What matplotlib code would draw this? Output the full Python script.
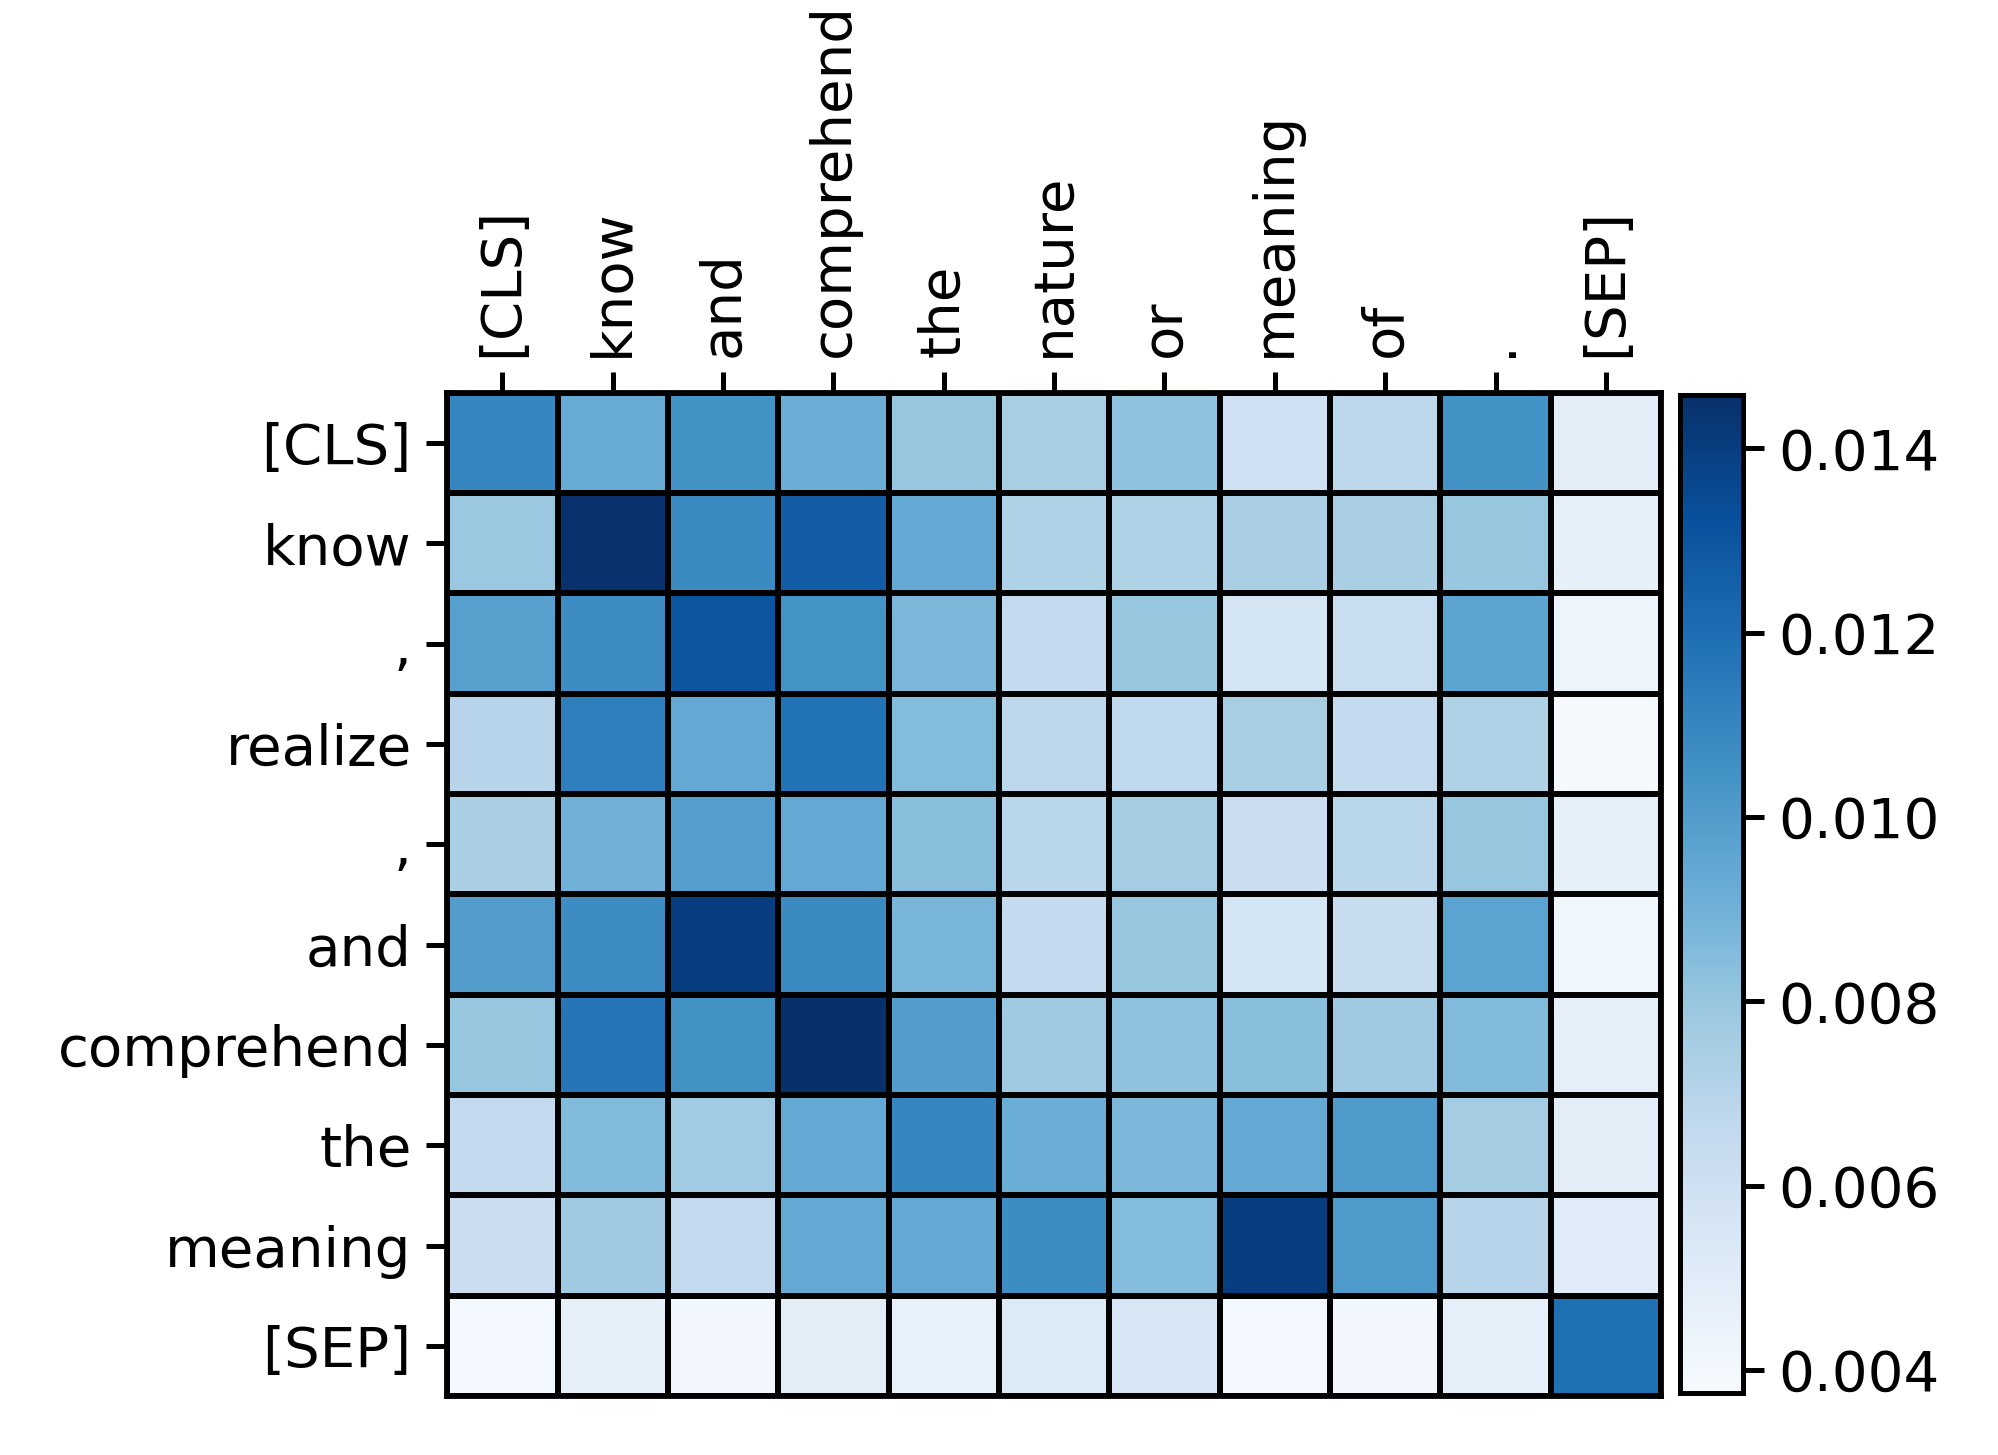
import numpy as np
import matplotlib
matplotlib.use('Agg')
import matplotlib.pyplot as plt

col_tokens = ['[CLS]', 'know', 'and', 'comprehend', 'the', 'nature', 'or',
              'meaning', 'of', '.', '[SEP]']
row_tokens = ['[CLS]', 'know', ',', 'realize', ',', 'and', 'comprehend',
              'the', 'meaning', '[SEP]']

attn_cls = [0.0110, 0.0093, 0.0105, 0.0092, 0.0080, 0.0075, 0.0082, 0.0060, 0.0068, 0.0105, 0.0049]
attn_know = [0.0079, 0.0145, 0.0108, 0.0127, 0.0094, 0.0072, 0.0072, 0.0074, 0.0074, 0.0080, 0.0047]
attn_comma1 = [0.0098, 0.0107, 0.0130, 0.0104, 0.0087, 0.0065, 0.0080, 0.0057, 0.0063, 0.0096, 0.0043]
attn_realize = [0.0070, 0.0113, 0.0094, 0.0118, 0.0085, 0.0068, 0.0067, 0.0075, 0.0065, 0.0072, 0.0039]
attn_comma2 = [0.0074, 0.0090, 0.0099, 0.0094, 0.0084, 0.0069, 0.0076, 0.0062, 0.0069, 0.0080, 0.0048]
attn_and = [0.0100, 0.0107, 0.0140, 0.0108, 0.0088, 0.0065, 0.0080, 0.0057, 0.0064, 0.0097, 0.0042]
attn_comprehend = [0.0080, 0.0117, 0.0105, 0.0146, 0.0100, 0.0078, 0.0082, 0.0084, 0.0078, 0.0086, 0.0048]
attn_the = [0.0065, 0.0086, 0.0077, 0.0094, 0.0110, 0.0092, 0.0087, 0.0094, 0.0101, 0.0076, 0.0049]
attn_meaning = [0.0062, 0.0078, 0.0065, 0.0094, 0.0094, 0.0107, 0.0085, 0.0140, 0.0101, 0.0070, 0.0051]
attn_sep = [0.0040, 0.0047, 0.0041, 0.0049, 0.0046, 0.0052, 0.0055, 0.0040, 0.0041, 0.0048, 0.0119]

attn = np.array([attn_cls, attn_know, attn_comma1, attn_realize, attn_comma2,
                 attn_and, attn_comprehend, attn_the, attn_meaning, attn_sep])

fig = plt.figure(figsize=(6.663, 4.85), dpi=300)
ax = fig.add_axes([0.2237, 0.0405, 0.6073, 0.6895])
cax = fig.add_axes([0.8405, 0.0426, 0.0315, 0.686])

mesh = ax.pcolormesh(attn, cmap='Blues', vmin=0.00375, vmax=0.01458,
                     edgecolors='black', linewidth=1.4)
ax.set_xlim(0, attn.shape[1])
ax.set_ylim(attn.shape[0], 0)

ax.set_xticks(np.arange(attn.shape[1]) + 0.5)
ax.set_xticklabels(col_tokens, rotation=90, fontsize=13.5)
ax.set_yticks(np.arange(attn.shape[0]) + 0.5)
ax.set_yticklabels(row_tokens, fontsize=13.5)
ax.xaxis.tick_top()
ax.tick_params(length=5, width=1.2)
for spine in ax.spines.values():
    spine.set_linewidth(1.4)

cbar = fig.colorbar(mesh, cax=cax)
cbar.set_ticks([0.004, 0.006, 0.008, 0.010, 0.012, 0.014])
cbar.ax.tick_params(labelsize=13.5, length=5, width=1.2)
cbar.outline.set_linewidth(1.2)

fig.savefig('out.png', dpi=300)
